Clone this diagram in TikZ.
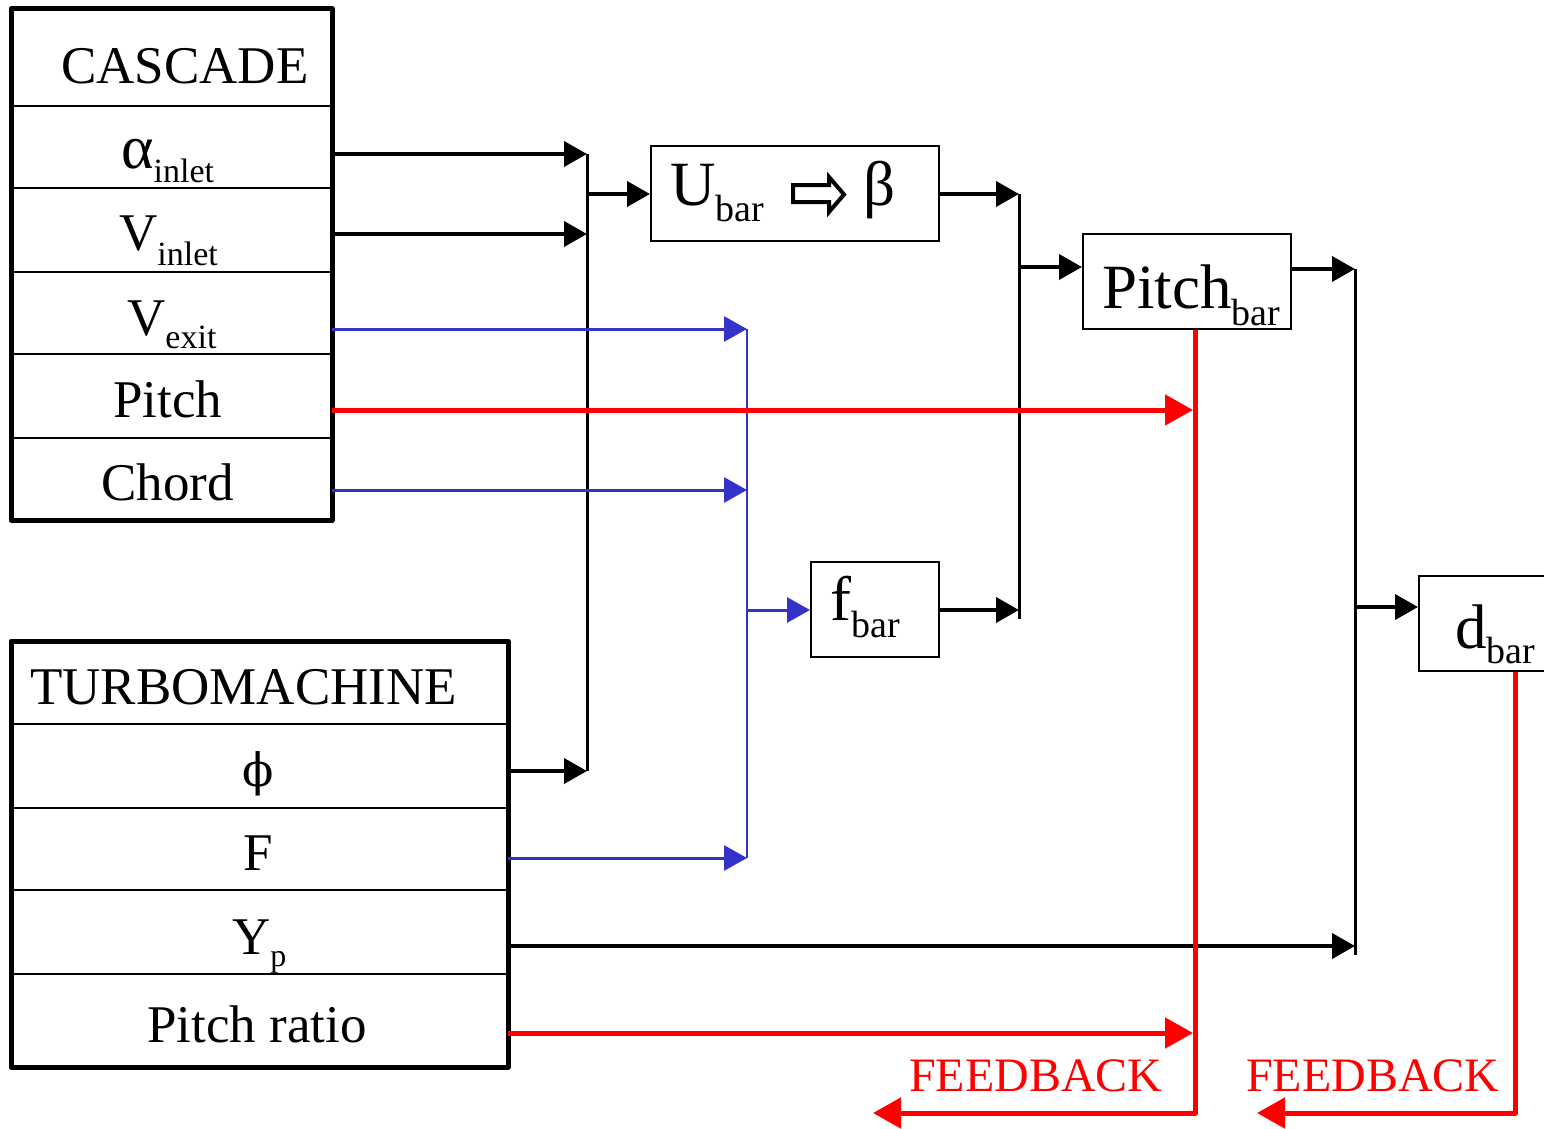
\documentclass[tikz,border=0pt]{standalone}
\usepackage{fontspec}
\setmainfont{Liberation Serif}
\newfontfamily\dvserif{DejaVu Serif}
\usetikzlibrary{arrows.meta}
\definecolor{bl}{RGB}{51,51,204}
\definecolor{rd}{RGB}{255,0,0}
\newcommand\fs[1]{\fontsize{#1}{#1}\selectfont}
\newcommand\subtx[3]{\raisebox{-#1pt}{\fs{#2}#3}}
\tikzset{
  ccell/.style={draw,line width=2pt,inner sep=0pt,minimum width=319pt},
  tcell/.style={draw,line width=2pt,inner sep=0pt,minimum width=495pt},
  box/.style={draw,line width=2pt,inner sep=0pt},
  outerframe/.style={line width=5pt,line join=round},
  conn/.style={line width=4pt,-{Triangle[length=23pt,width=25pt]}},
  bconn/.style={bl,line width=3pt,-{Triangle[length=23pt,width=25pt]}},
  rconn/.style={rd,line width=5pt,-{Triangle[length=28pt,width=30pt]}},
  bus/.style={line width=3pt},
  bbus/.style={bl,line width=2.5pt},
  rline/.style={rd,line width=5pt,line join=round,-{Triangle[length=28pt,width=30pt]}},
  lbl/.style={anchor=base west,inner sep=0pt},
}
\begin{document}
\begin{tikzpicture}[x=1pt,y=-1pt]
\useasboundingbox (0,0) rectangle (1544,1129);
\clip (0,0) rectangle (1544,1129);
\fill[white] (0,0) rectangle (1544,1129);

% CASCADE table
\node[ccell,minimum height=96pt] (ct) at (171.5,58) {};
\node[ccell,minimum height=82pt] (ca) at (171.5,147) {};
\node[ccell,minimum height=84pt] (cvi) at (171.5,230) {};
\node[ccell,minimum height=82pt] (cve) at (171.5,313) {};
\node[ccell,minimum height=84pt] (cp) at (171.5,396) {};
\node[ccell,minimum height=81pt] (cc) at (171.5,478.5) {};
\draw[outerframe] (ct.north west) rectangle (cc.south east);

% TURBOMACHINE table
\node[tcell,minimum height=82pt] (tt) at (259.5,683) {};
\node[tcell,minimum height=84pt] (tphi) at (259.5,766) {};
\node[tcell,minimum height=82pt] (tf) at (259.5,849) {};
\node[tcell,minimum height=84pt] (ty) at (259.5,932) {};
\node[tcell,minimum height=92pt] (tpr) at (259.5,1020) {};
\draw[outerframe] (tt.north west) rectangle (tpr.south east);

% process boxes
\node[box,minimum width=288pt,minimum height=95pt] (ub) at (795,193.5) {};
\node[box,minimum width=208pt,minimum height=95pt] (pb) at (1187,281.5) {};
\node[box,minimum width=128pt,minimum height=95pt] (fb) at (875,609.5) {};
\node[box,minimum width=151pt,minimum height=95pt] (db) at (1494.5,623.5) {};

% table texts
\node[lbl] (lcas) at (61,84) {\fs{53}CASCADE};
\node[lbl] (lal) at (121,168) {\fs{62}α\subtx{14}{34}{inlet}};
\node[lbl] (lvi) at (119,250) {\fs{53}V\subtx{15}{34}{inlet}};
\node[lbl] (lve) at (127,335) {\fs{53}V\subtx{13}{34}{exit}};
\node[lbl] (lpi) at (113,417) {\fs{53}Pitch};
\node[lbl] (lch) at (101,500) {\fs{53}Chord};
\node[lbl] (ltu) at (30,704) {\fs{53}TURBOMACHINE};
\node[anchor=base,inner sep=0pt] (lph) at (258,786) {\fs{46}\dvserif ϕ};
\node[lbl] (lf) at (243,870) {\fs{53}F};
\node[lbl] (lyp) at (232,954) {\fs{53}Y\subtx{12}{32}{p}};
\node[lbl] (lpr) at (147,1042) {\fs{53}Pitch ratio};

% box texts
\node[lbl] (lub) at (670,205) {\fs{63}U\subtx{16}{38}{bar}};
\node[lbl] (lbe) at (863,205) {\fs{63}β};
\draw[line width=4pt,line join=miter] (793,185) -- (829,185) -- (829,177) -- (844,194.5) -- (829,212) -- (829,202) -- (793,202) -- cycle;
\node[lbl] (lpb) at (1102,308) {\fs{63}Pitch\subtx{17}{38}{bar}};
\node[lbl] (lfb) at (830,620) {\fs{63}f\subtx{17}{38}{bar}};
\node[lbl] (ldb) at (1455,648) {\fs{63}d\subtx{15}{38}{bar}};
\node[lbl,text=rd] (lfb1) at (909,1091) {\fs{48}FEEDBACK};
\node[lbl,text=rd] (lfb2) at (1246,1091) {\fs{48}FEEDBACK};

% junction coordinates
\coordinate (b1t) at (587,154);
\coordinate (b1v) at (587,234);
\coordinate (b1o) at (587,194);
\coordinate (b1b) at (587,771);
\coordinate (bbt) at (747,329);
\coordinate (bbc) at (747,490);
\coordinate (bbo) at (747,610);
\coordinate (bbb) at (747,858);
\coordinate (b2t) at (1019,194);
\coordinate (b2o) at (1019,267);
\coordinate (b2f) at (1019,610);
\coordinate (b2b) at (1019,619);
\coordinate (b3t) at (1355,269);
\coordinate (b3o) at (1355,607);
\coordinate (b3y) at (1355,946);
\coordinate (b3b) at (1355,955);
\coordinate (rp) at (1193,410);
\coordinate (rpr) at (1193,1033);
\coordinate (rc1) at (1195,1113);
\coordinate (re1) at (873,1113);
\coordinate (rc2) at (1515,1113);
\coordinate (re2) at (1257,1113);

% black bus 1
\draw[bus] (b1t) -- (b1b);
\draw[conn] (ca.east |- b1t) -- (b1t);
\draw[conn] (cvi.east |- b1v) -- (b1v);
\draw[conn] (tphi.east |- b1b) -- (b1b);
\draw[conn] (b1o) -- (b1o -| ub.west);

% blue bus
\draw[bbus] (bbt) -- (bbb);
\draw[bconn] (cve.east |- bbt) -- (bbt);
\draw[bconn] (cc.east |- bbc) -- (bbc);
\draw[bconn] (tf.east |- bbb) -- (bbb);
\draw[bconn] (bbo) -- (bbo -| fb.west);

% black bus 2
\draw[bus] (b2t) -- (b2b);
\draw[conn] (ub.east |- b2t) -- (b2t);
\draw[conn] (fb.east |- b2f) -- (b2f);
\draw[conn] (b2o) -- (b2o -| pb.west);

% black bus 3
\draw[bus] (b3t) -- (b3b);
\draw[conn] (pb.east |- b3t) -- (b3t);
\draw[conn] (ty.east |- b3y) -- (b3y);
\draw[conn] (b3o) -- (b3o -| db.west);

% red lines
\draw[rconn] (cp.east |- rp) -- (rp);
\draw[rconn] (tpr.east |- rpr) -- (rpr);
\draw[rline] (pb.south -| rc1) -- (rc1) -- (re1);
\draw[rline] (db.south -| rc2) -- (rc2) -- (re2);
\end{tikzpicture}
\end{document}
